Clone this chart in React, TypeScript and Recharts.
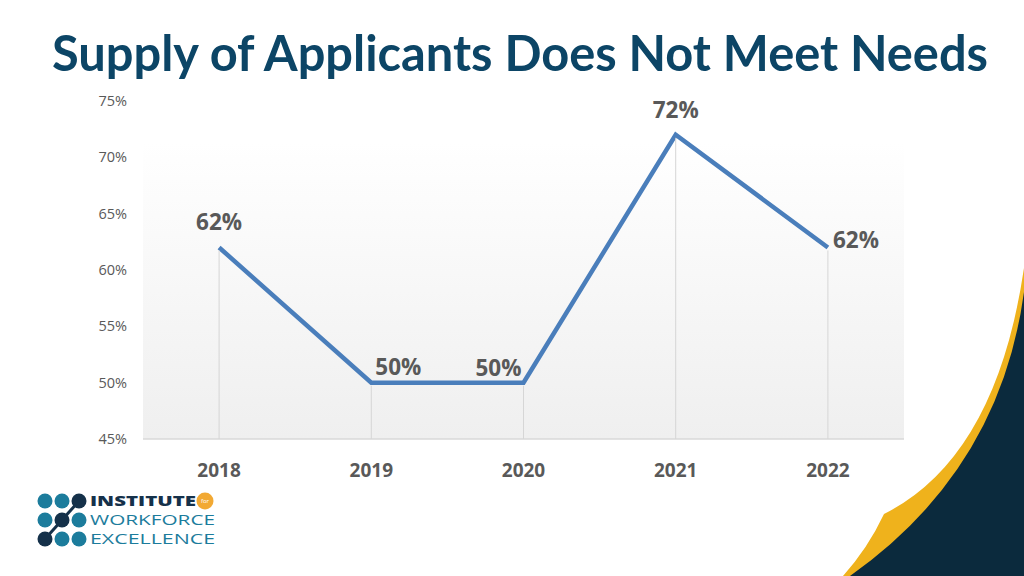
import React from 'react'
import { LineChart, Line, XAxis, YAxis, CartesianGrid } from 'recharts'

const years = ['2018', '2019', '2020', '2021', '2022']
const shareUnmet = [62, 50, 50, 72, 62]
const yTicks = [45, 50, 55, 60, 65, 70, 75]

const W = 1024
const H = 576
const margin = { top: 101, right: 120, bottom: 97, left: 83 }
const X_AXIS_H = 40
const PLOT_BOTTOM = H - margin.bottom - X_AXIS_H
const plotW = W - margin.left - margin.right - 60
const halfBand = plotW / years.length / 2

// label nudges so they sit like the slide's data labels
const labelNudge = [
  { dx: 0, dy: -26 },
  { dx: 27, dy: -16 },
  { dx: -25, dy: -15 },
  { dx: 0, dy: -25 },
  { dx: 28, dy: -8 }
]

const chartData = years.map((year, i) => ({ year, value: shareUnmet[i] }))

const DropLine = (props: any) => {
  const { cx, cy } = props
  if (cx == null || cy == null) return null
  return <line x1={cx} x2={cx} y1={cy + 3} y2={PLOT_BOTTOM} stroke="#D6D6D6" strokeWidth={1} />
}

const renderLabel = (props: any) => {
  const { x, y, index, value } = props
  const n = labelNudge[index] || { dx: 0, dy: -20 }
  return (
    <text
      x={x + n.dx}
      y={y + n.dy}
      textAnchor="middle"
      dominantBaseline="central"
      fontFamily="'Open Sans', sans-serif"
      fontWeight={700}
      fontSize={22.5}
      fill="#595959"
    >
      {value}%
    </text>
  )
}

function Logo() {
  const teal = '#1C7C9C'
  const navy = '#15314A'
  const cols = [45, 62, 79]
  const rows = [501, 520, 539]
  const darkCells = ['2-0', '1-1', '0-2']
  return (
    <g>
      <polyline points={`${cols[0]},${rows[2]} ${cols[1]},${rows[1]} ${cols[2]},${rows[0]}`} stroke={navy} strokeWidth={3} fill="none" />
      {rows.map((cy, r) =>
        cols.map((cx, c) => (
          <circle key={`${r}-${c}`} cx={cx} cy={cy} r={7.5} fill={darkCells.includes(`${r}-${c}`) ? navy : teal} />
        ))
      )}
      <text x={90} y={506} fontFamily="'Open Sans', sans-serif" fontWeight={800} fontSize={14} fill={navy} textLength={106} lengthAdjust="spacingAndGlyphs">
        INSTITUTE
      </text>
      <circle cx={205} cy={501} r={8.5} fill="#F2A933" />
      <text x={205} y={503} textAnchor="middle" fontFamily="'Open Sans', sans-serif" fontSize={6} fill="#fff">for</text>
      <text x={90} y={525} fontFamily="'Open Sans', sans-serif" fontWeight={400} fontSize={14} fill={teal} textLength={125} lengthAdjust="spacingAndGlyphs">
        WORKFORCE
      </text>
      <text x={90} y={544} fontFamily="'Open Sans', sans-serif" fontWeight={400} fontSize={14} fill={teal} textLength={125} lengthAdjust="spacingAndGlyphs">
        EXCELLENCE
      </text>
    </g>
  )
}

export default function App() {
  return (
    <div style={{ position: 'absolute', left: 0, top: 0, width: W, height: H, background: '#fff', overflow: 'hidden' }}>
      <div style={{ position: 'absolute', left: 0, top: 0 }}>
        <LineChart width={W} height={H} data={chartData} margin={margin}>
          <defs>
            <linearGradient id="plotBg" x1="0" y1="0" x2="0" y2="1">
              <stop offset="0%" stopColor="#FFFFFF" />
              <stop offset="12%" stopColor="#FFFFFF" />
              <stop offset="100%" stopColor="#EFEFEF" />
            </linearGradient>
          </defs>
          <CartesianGrid horizontal={false} vertical={false} fill="url(#plotBg)" fillOpacity={1} />
          <XAxis
            dataKey="year"
            height={X_AXIS_H}
            padding={{ left: halfBand, right: halfBand }}
            axisLine={{ stroke: '#D9D9D9', strokeWidth: 1.5 }}
            tickLine={false}
            tickMargin={19}
            tick={{ fill: '#595959', fontSize: 19, fontWeight: 700, fontFamily: "'Open Sans', sans-serif" }}
          />
          <YAxis
            domain={[45, 75]}
            ticks={yTicks}
            width={60}
            axisLine={false}
            tickLine={false}
            tickSize={0}
            tickMargin={16}
            tickFormatter={(v: number) => `${v}%`}
            tick={{ fill: '#595959', fontSize: 14.5, fontFamily: "'Open Sans', sans-serif" }}
          />
          <Line
            type="linear"
            dataKey="value"
            stroke="#4A7EBB"
            strokeWidth={4.5}
            dot={<DropLine />}
            activeDot={false}
            label={renderLabel}
            isAnimationActive={false}
          />
        </LineChart>
      </div>
      <svg width={W} height={H} style={{ position: 'absolute', left: 0, top: 0, pointerEvents: 'none' }}>
        <text
          x={52}
          y={71}
          fontFamily="Lato, 'Open Sans', sans-serif"
          fontWeight={700}
          fontSize={50}
          fill="#0C4566"
          textLength={936}
          lengthAdjust="spacingAndGlyphs"
        >
          Supply of Applicants Does Not Meet Needs
        </text>
        <Logo />
        <path d="M1024,268 Q996,458 884,514 Q868,548 843,576 L1024,576 Z" fill="#EFB21C" />
        <path d="M1024,292 Q1000,470 850,576 L1024,576 Z" fill="#0B2A3D" />
      </svg>
    </div>
  )
}
